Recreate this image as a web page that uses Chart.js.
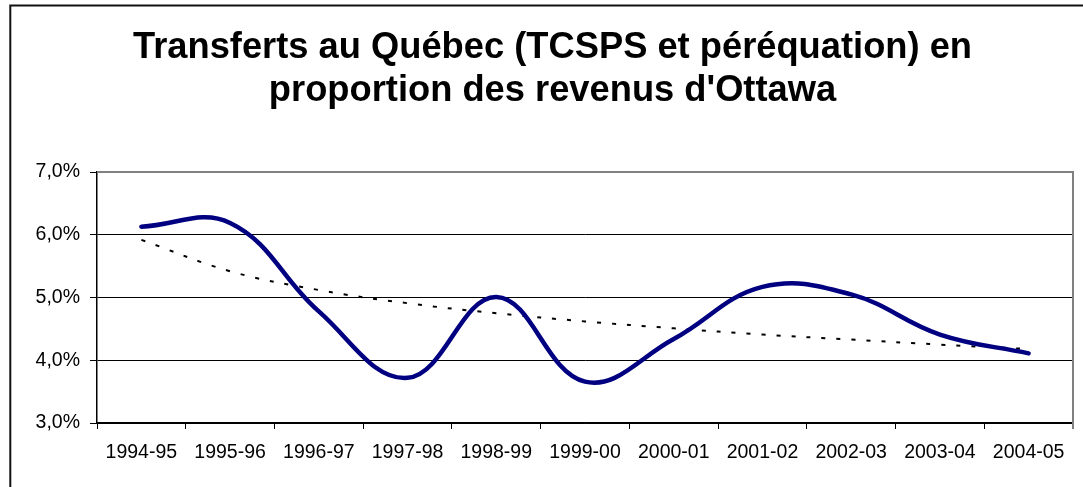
<!DOCTYPE html>
<html>
<head>
<meta charset="utf-8">
<script src="https://cdn.jsdelivr.net/npm/chart.js@4.4.1/dist/chart.umd.min.js"></script>
<style>
    html, body { margin: 0; padding: 0; background: #fff; }
    #wrap { width: 1083px; height: 487px; }
</style>
</head>
<body>
<div id="wrap"><canvas id="myChart" width="1083" height="487"></canvas></div>
<script>
// données
const annees = ['1994-95', '1995-96', '1996-97', '1997-98', '1998-99', '1999-00',
    '2000-01', '2001-02', '2002-03', '2003-04', '2004-05'];
const transferts = [6.13, 6.19, 4.78, 3.72, 5.01, 3.66, 4.34, 5.17, 5.05, 4.41, 4.11];
const tendance = [5.92, 5.42, 5.12, 4.91, 4.75, 4.62, 4.51, 4.41, 4.33, 4.25, 4.18];
const titre = ['Transferts au Québec (TCSPS et péréquation) en', "proportion des revenus d'Ottawa"];

const police = "'Liberation Sans', Arial, sans-serif";

// cadre extérieur + bordure grise du haut et de droite
const cadre = {
    id: 'cadre',
    beforeDraw(chart) {
        const ctx = chart.ctx;
        ctx.save();
        ctx.strokeStyle = '#111';
        ctx.lineWidth = 2;
        ctx.strokeRect(10.3, 5.5, 2000, 2000);
        ctx.restore();
    },
    afterDraw(chart) {
        const a = chart.chartArea;
        const ctx = chart.ctx;
        ctx.save();
        ctx.strokeStyle = '#808080';
        ctx.lineWidth = 2;
        ctx.beginPath();
        ctx.moveTo(a.left, a.top);
        ctx.lineTo(a.right, a.top);
        ctx.lineTo(a.right, a.bottom + 6);
        ctx.stroke();
        ctx.restore();
    }
};

const ctx = document.getElementById('myChart');

const myChart = new Chart(ctx, {
    type: 'line',
    data: {
        labels: annees,
        datasets: [{
            data: transferts,
            borderColor: '#000080',
            borderWidth: 4.5,
            borderCapStyle: 'round',
            tension: 0.4,
            pointRadius: 0,
            fill: false
        }, {
            data: tendance,
            borderColor: '#000',
            borderWidth: 2,
            borderDash: [4, 11],
            tension: 0.4,
            pointRadius: 0,
            fill: false
        }]
    },
    options: {
        responsive: false,
        animation: false,
        layout: {
            // le titre est centré sur le cadre (qui commence à x=10)
            padding: { left: 32, right: 10, top: 0, bottom: 0 }
        },
        plugins: {
            legend: { display: false },
            tooltip: { enabled: false },
            title: {
                display: true,
                text: titre,
                color: '#000',
                font: { family: police, size: 36.3, weight: 'bold', lineHeight: 1.2 },
                padding: { top: 26, bottom: 59 }
            }
        },
        scales: {
            x: {
                offset: true,
                grid: {
                    offset: true,
                    drawOnChartArea: false,
                    drawTicks: true,
                    tickLength: 6,
                    color: '#000'
                },
                border: { color: '#000', width: 1.5 },
                ticks: {
                    color: '#000',
                    padding: 12,
                    maxRotation: 0,
                    autoSkip: false,
                    font: { family: police, size: 19.5 }
                },
                afterFit: function (scale) { scale.height = 64; }
            },
            y: {
                min: 3,
                max: 7,
                ticks: {
                    stepSize: 1,
                    color: '#000',
                    padding: 10,
                    font: { family: police, size: 19.5 },
                    callback: v => v.toFixed(1).replace('.', ',') + '%'
                },
                grid: {
                    color: c => c.tick && c.tick.value === 7 ? 'rgba(0,0,0,0)' : '#000',
                    lineWidth: 1,
                    tickLength: 7,
                    tickColor: '#000'
                },
                border: { color: '#000', width: 1.5 },
                afterFit: function (scale) { scale.width = 65; }
            }
        }
    },
    plugins: [cadre]
});
</script>
</body>
</html>
